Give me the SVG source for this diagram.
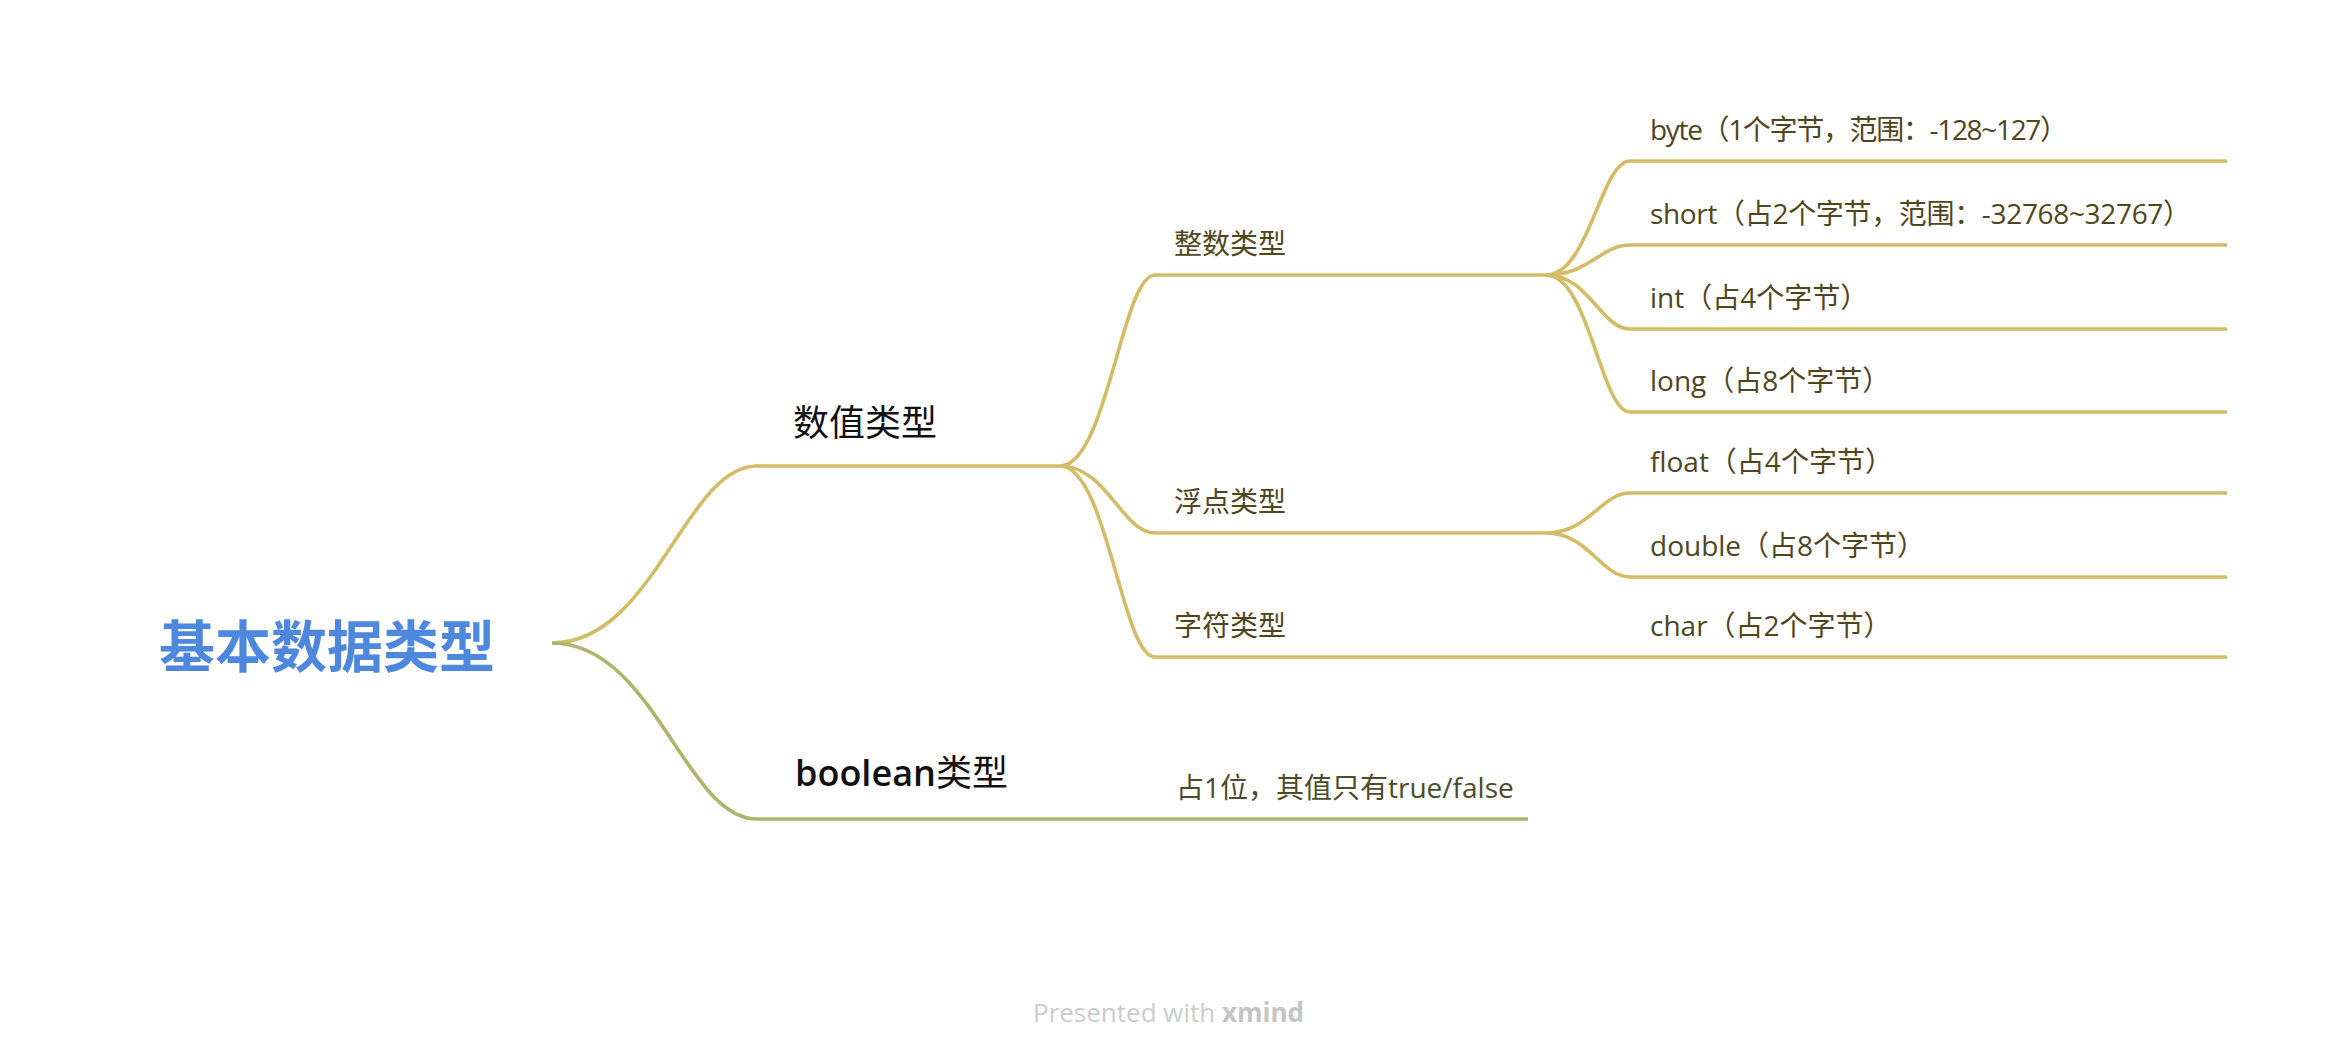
<svg xmlns="http://www.w3.org/2000/svg" width="2328" height="1062" viewBox="0 0 2328 1062">
<style>
  .bg{fill:#ffffff}
  .ln{fill:none;stroke:#d4bc66;stroke-width:3.6;stroke-linecap:butt}
  .lg{fill:none;stroke:#abb56b;stroke-width:3.6;stroke-linecap:butt}
  .root{font-family:"Noto Sans CJK SC",sans-serif;font-weight:bold;font-size:56px;fill:#4d88de}
  .l1{font-family:"Open Sans","Noto Sans CJK SC",sans-serif;font-size:36px;fill:#111111}
  .l2{font-family:"Open Sans","Noto Sans CJK SC",sans-serif;font-size:28px;fill:#4f461c}
  .l2g{font-family:"Open Sans","Noto Sans CJK SC",sans-serif;font-size:28px;fill:#4b4d28}
  .wm{font-family:"Open Sans",sans-serif;font-size:26px;fill:#cccccc}
</style>
<rect class="bg" x="0" y="0" width="2328" height="1062"/>

<g id="connectors">
  <path class="ln" d="M552,643 C654,643 685,466 757,466"/>
  <path class="lg" d="M552,643 C654,643 685,819 757,819"/>
  <path class="ln" d="M1060,466 C1107,466 1122,275 1155,275"/>
  <path class="ln" d="M1060,466 C1107,466 1122,533 1155,533"/>
  <path class="ln" d="M1060,466 C1107,466 1122,657 1155,657"/>
  <path class="ln" d="M1546,275 C1589,275 1601,161 1630,161"/>
  <path class="ln" d="M1546,275 C1589,275 1601,245 1630,245"/>
  <path class="ln" d="M1546,275 C1589,275 1601,329 1630,329"/>
  <path class="ln" d="M1546,275 C1589,275 1601,412 1630,412"/>
  <path class="ln" d="M1546,533 C1589,533 1601,493 1630,493"/>
  <path class="ln" d="M1546,533 C1589,533 1601,577 1630,577"/>
  <path class="ln" d="M1546,657 H1630"/>
  <path class="lg" d="M1155,819 H1155"/>
</g>

<g id="node-root">
  <text class="root" x="159" y="667">基本数据类型</text>
</g>

<g id="node-numeric">
  <path class="ln" d="M757,466 H1060"/>
  <text class="l1" x="793" y="436">数值类型</text>
</g>
<g id="node-boolean">
  <path class="lg" d="M757,819 H1155"/>
  <text class="l1" x="795" y="786"><tspan font-weight="600">boolean</tspan>类型</text>
</g>

<g id="node-integer">
  <path class="ln" d="M1155,275 H1546"/>
  <text class="l2" x="1174" y="254">整数类型</text>
</g>
<g id="node-float-type">
  <path class="ln" d="M1155,533 H1546"/>
  <text class="l2" x="1174" y="512">浮点类型</text>
</g>
<g id="node-char-type">
  <path class="ln" d="M1155,657 H1546"/>
  <text class="l2" x="1174" y="636">字符类型</text>
</g>

<g id="node-byte">
  <path class="ln" d="M1630,161 H2227"/>
  <text class="l2" x="1650" y="140" textLength="418" lengthAdjust="spacing">byte（1个字节，范围：-128~127）</text>
</g>
<g id="node-short">
  <path class="ln" d="M1630,245 H2227"/>
  <text class="l2" x="1650" y="224" textLength="541" lengthAdjust="spacing">short（占2个字节，范围：-32768~32767）</text>
</g>
<g id="node-int">
  <path class="ln" d="M1630,329 H2227"/>
  <text class="l2" x="1650" y="308">int（占4个字节）</text>
</g>
<g id="node-long">
  <path class="ln" d="M1630,412 H2227"/>
  <text class="l2" x="1650" y="391">long（占8个字节）</text>
</g>
<g id="node-float">
  <path class="ln" d="M1630,493 H2227"/>
  <text class="l2" x="1650" y="472">float（占4个字节）</text>
</g>
<g id="node-double">
  <path class="ln" d="M1630,577 H2227"/>
  <text class="l2" x="1650" y="556">double（占8个字节）</text>
</g>
<g id="node-char">
  <path class="ln" d="M1630,657 H2227"/>
  <text class="l2" x="1650" y="636">char（占2个字节）</text>
</g>
<g id="node-boolean-value">
  <path class="lg" d="M1155,819 H1528"/>
  <text class="l2g" x="1176" y="798">占1位，其值只有true/false</text>
</g>

<g id="watermark">
  <text class="wm" x="1033" y="1022">Presented with <tspan font-weight="bold" fill="#c4c4c4">xmind</tspan></text>
</g>
</svg>
